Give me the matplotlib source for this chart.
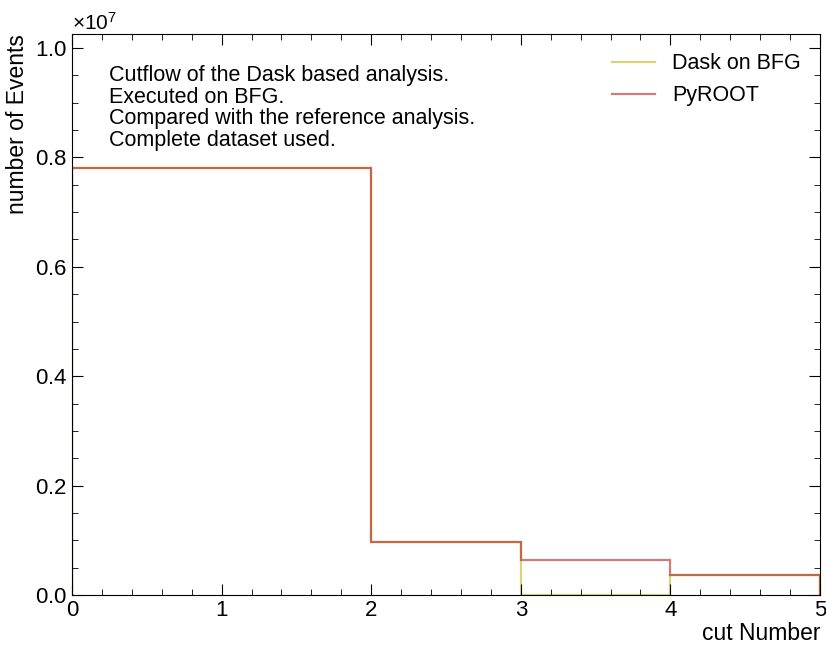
import matplotlib
matplotlib.use("Agg")
import matplotlib.pyplot as plt
import numpy as np
from matplotlib.ticker import MultipleLocator

# cutflow data
bin_edges = [0, 1, 2, 3, 4, 5]
dask_counts = [7.80e6, 7.80e6, 9.69e5, 0, 3.58e5]
pyroot_counts = [7.80e6, 7.80e6, 9.69e5, 6.33e5, 3.58e5]

plt.rcParams['font.family'] = ['Liberation Sans', 'DejaVu Sans']
plt.rcParams['mathtext.fontset'] = 'custom'
plt.rcParams['mathtext.rm'] = 'Liberation Sans'

fig = plt.figure(figsize=(8.26, 6.48), dpi=100)
ax = fig.add_axes([72 / 826, 1 - 595 / 648, 748 / 826, 561 / 648])

# step histograms
ax.stairs(dask_counts, bin_edges, color='tab:olive', alpha=0.6, linewidth=1.6,
          label='Dask on BFG')
ax.stairs(pyroot_counts, bin_edges, color='firebrick', alpha=0.6, linewidth=1.6,
          label='PyROOT')

ax.set_xlim(0, 5)
ax.set_ylim(0, 1.0256e7)

ax.xaxis.set_major_locator(MultipleLocator(1))
ax.xaxis.set_minor_locator(MultipleLocator(0.2))
ax.yaxis.set_major_locator(MultipleLocator(0.2e7))
ax.yaxis.set_minor_locator(MultipleLocator(0.05e7))
ax.tick_params(which='both', direction='in', top=True, right=True, labelsize=16)
ax.tick_params(which='major', length=8)
ax.tick_params(which='minor', length=4)
ax.ticklabel_format(axis='y', style='sci', scilimits=(0, 0), useMathText=True)
ax.yaxis.get_offset_text().set_fontsize(15)

ax.set_xlabel('cut Number', fontsize=16.5, loc='right', labelpad=1)
ax.set_ylabel('number of Events', fontsize=16.5, loc='top')

ax.text(0.05, 0.945,
        'Cutflow of the Dask based analysis.\nExecuted on BFG.\n'
        'Compared with the reference analysis.\nComplete dataset used.',
        transform=ax.transAxes, fontsize=15.5, va='top', ha='left', linespacing=1.05)

ax.legend(loc='upper right', frameon=False, fontsize=15.5)

fig.savefig('out.png', dpi=100)
